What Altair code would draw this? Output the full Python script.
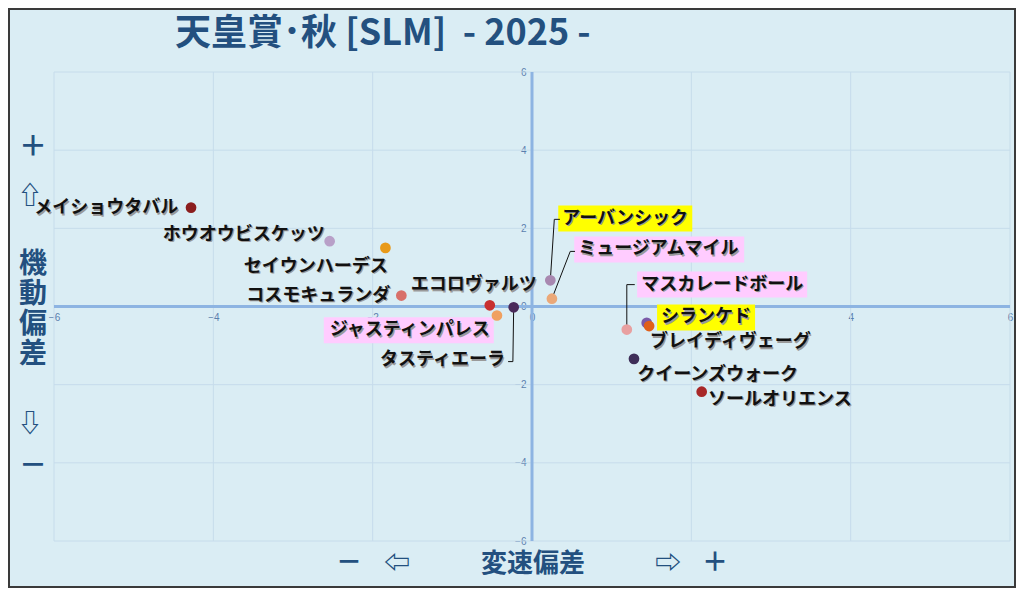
import altair as alt
import pandas as pd

# --- data -------------------------------------------------------------
horses = ["メイショウタバル", "ホウオウビスケッツ", "セイウンハーデス", "コスモキュランダ",
          "エコロヴァルツ", "ジャスティンパレス", "タスティエーラ", "アーバンシック",
          "ミュージアムマイル", "マスカレードボール", "シランケド", "ブレイディヴェーグ",
          "クイーンズウォーク", "ソールオリエンス"]
speed_dev = [-4.28, -2.54, -1.84, -1.64, -0.53, -0.44, -0.23, 0.23, 0.25, 1.19, 1.44, 1.47, 1.28, 2.13]
mobility_dev = [2.53, 1.67, 1.50, 0.28, 0.03, -0.23, -0.02, 0.67, 0.20, -0.59, -0.42, -0.50, -1.34, -2.18]
dot_colors = ["#8B1E1E", "#B8A0C8", "#E89A1A", "#D8706A", "#C83030", "#F0A060", "#4A2A5A",
              "#A888B0", "#EBA878", "#E8A0A0", "#7A5AA8", "#E0601A", "#3E2E58", "#A82828"]

# label anchors (data units) and which side of the anchor the text sits
label_x = [-4.44, -2.60, -1.81, -1.78, 0.06, -0.53, -0.34, 0.38, 0.58, 1.37, 1.62, 1.48, 1.32, 2.21]
label_y = [2.51, 1.84, 1.02, 0.28, 0.54, -0.61, -1.38, 2.25, 1.46, 0.56, -0.28, -0.92, -1.74, -2.38]
label_side = ["L", "L", "L", "L", "L", "L", "L", "R", "R", "R", "R", "R", "R", "R"]
highlight = ["", "", "", "", "", "#FFCCFF", "", "#FFFF00", "#FFCCFF", "#FFCCFF", "#FFFF00", "", "", ""]

# leader lines: horse -> elbow -> end near label
leader_horse = ["アーバンシック", "ミュージアムマイル", "マスカレードボール", "タスティエーラ"]
elbow_x = [0.28, 0.48, 1.19, -0.24]
elbow_y = [2.23, 1.41, 0.56, -1.41]
end_x = [0.35, 0.54, 1.29, -0.30]
end_y = [2.23, 1.41, 0.56, -1.41]

grid_values = [-6, -4, -2, 2, 4, 6]
tick_values = [-6, -4, -2, 0, 2, 4, 6]

# --- layout -----------------------------------------------------------
W, H = 956, 469
FS = 18
px_x = W / 12
px_y = H / 12
BG = "#DAEDF4"
NAVY = "#23507F"
FONT = "Noto Sans CJK JP"

df = pd.DataFrame({
    "horse": horses, "x": speed_dev, "y": mobility_dev, "color": dot_colors,
    "lx": label_x, "ly": label_y, "side": label_side, "hl": highlight,
})
wpx = df["horse"].str.len() * FS
df["bx0"] = df["lx"] - (df["side"] == "L") * wpx / px_x - 4 / px_x
df["bx1"] = df["lx"] + (df["side"] == "R") * wpx / px_x + 4 / px_x
df["by0"] = df["ly"] - 13 / px_y
df["by1"] = df["ly"] + 13 / px_y

pos = df.set_index("horse")
rows = []
for i, h in enumerate(leader_horse):
    rows.append({"horse": h, "o": 0, "x": pos.loc[h, "x"], "y": pos.loc[h, "y"]})
    rows.append({"horse": h, "o": 1, "x": elbow_x[i], "y": elbow_y[i]})
    rows.append({"horse": h, "o": 2, "x": end_x[i], "y": end_y[i]})
leaders = pd.DataFrame(rows)

xs = alt.Scale(domain=[-6, 6], nice=False, zero=False)
ys = alt.Scale(domain=[-6, 6], nice=False, zero=False)
ax_common = dict(values=tick_values, grid=False, domain=False, ticks=False,
                 labelFontSize=10, labelColor="#5A7FAE", labelFlush=False,
                 labelOverlap=False, title=None)
AX = alt.Axis(offset=-H / 2, labelPadding=6, **ax_common)
AY = alt.Axis(offset=-W / 2, labelPadding=6, **ax_common)


def X(field):
    return alt.X(field, scale=xs, axis=AX)


def Y(field):
    return alt.Y(field, scale=ys, axis=AY)


grid_x = alt.Chart(pd.DataFrame({"v": grid_values})).mark_rule(color="#C6DCEB", strokeWidth=1).encode(
    x=X("v:Q"))
grid_y = alt.Chart(pd.DataFrame({"v": grid_values})).mark_rule(color="#C6DCEB", strokeWidth=1).encode(
    y=Y("v:Q"))
zero = pd.DataFrame({"v": [0]})
zero_x = alt.Chart(zero).mark_rule(color="#8DB4E2", strokeWidth=3).encode(x=X("v:Q"))
zero_y = alt.Chart(zero).mark_rule(color="#8DB4E2", strokeWidth=3).encode(y=Y("v:Q"))

base = alt.Chart(df)
boxes = base.transform_filter("datum.hl != ''").mark_rect().encode(
    x=X("bx0:Q"), x2="bx1:Q",
    y=Y("by0:Q"), y2="by1:Q",
    color=alt.Color("hl:N", scale=None))

lines = alt.Chart(leaders).mark_line(color="#111111", strokeWidth=1).encode(
    x=X("x:Q"), y=Y("y:Q"), detail="horse:N", order="o:Q")

points = base.mark_circle(size=115, opacity=1).encode(
    x=X("x:Q"), y=Y("y:Q"),
    color=alt.Color("color:N", scale=None))


def labels(side, align):
    sub = base.transform_filter(f"datum.side == '{side}'")
    enc = dict(x=X("lx:Q"), y=Y("ly:Q"), text="horse:N")
    shadow = sub.mark_text(align=align, baseline="middle", font=FONT, fontSize=FS,
                           fontWeight="bold", color="#9A9A9A", dx=1.2, dy=1.2).encode(**enc)
    front = sub.mark_text(align=align, baseline="middle", font=FONT, fontSize=FS,
                          fontWeight="bold", color="#111111").encode(**enc)
    return shadow + front


one = pd.DataFrame({"k": [0]})


def deco(text, x, y, size, align="center", baseline="middle", weight="bold", **kw):
    return alt.Chart(one).mark_text(
        text=text, align=align, baseline=baseline, font=FONT, fontSize=size,
        fontWeight=weight, color=NAVY, **kw).encode(x=alt.value(x), y=alt.value(y))


NB = "\u00a0"
title = deco(f"天皇賞･秋 [SLM]{NB}{NB}-{NB}2025{NB}-", 121, -38, 36, align="left")
left_side = (
    deco("＋", -21, 76, 28)
    + deco("⇧", -24, 124, 25)
    + deco("機\n動\n偏\n差", -21, 179, 28, baseline="top", lineBreak="\n", lineHeight=30)
    + deco("⇩", -24, 352, 25)
    + deco("－", -21, 395, 28)
)
bottom = (
    deco("－", 295, 491, 26)
    + deco("⇦", 343, 492, 26)
    + deco("変速偏差", 479, 492, 26)
    + deco("⇨", 614, 492, 26)
    + deco("＋", 661, 491, 26)
)
border = alt.Chart(one).mark_rect(fill=None, stroke="#3A3A3A", strokeWidth=2).encode(
    x=alt.value(-45), x2=alt.value(961), y=alt.value(-63), y2=alt.value(515))

chart = alt.layer(
    grid_x, grid_y, zero_x, zero_y, boxes, lines, points,
    labels("L", "right"), labels("R", "left"),
    title, left_side, bottom, border,
).properties(
    width=W, height=H,
    autosize=alt.AutoSizeParams(type="none"),
    padding={"left": 46, "top": 64, "right": 6, "bottom": 47},
).configure(background=BG).configure_view(strokeWidth=0)

chart.save("out.html", embed_options={"renderer": "svg", "actions": False})
